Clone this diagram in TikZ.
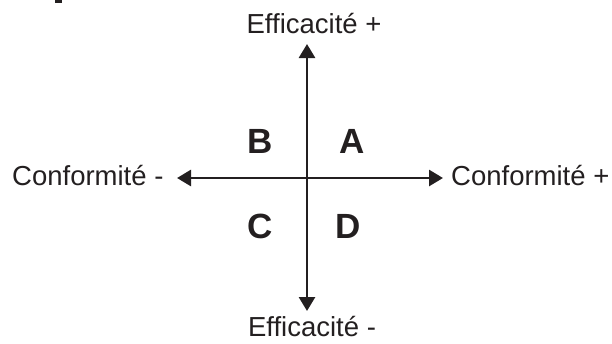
\documentclass[tikz,border=0pt]{standalone}
\usepackage{fontspec}
\setmainfont{Liberation Sans}
\usetikzlibrary{arrows.meta}
\definecolor{ink}{HTML}{231F20}
\begin{document}
\begin{tikzpicture}[x=1pt,y=-1pt,
  axis/.style={draw=ink,line width=2.8pt,-{Triangle[length=14pt,width=16pt]}},
  lbl/.style={text=ink,font=\fontsize{27.5}{30}\selectfont,inner sep=0pt},
  quad/.style={text=ink,font=\fontsize{35}{38}\selectfont\bfseries,inner sep=0pt}]
\useasboundingbox (0,0) rectangle (612,343);
\fill[ink] (55,0) rectangle (62,3);
\coordinate (O) at (307,178);
\coordinate (top) at (307,44);
\coordinate (bot) at (307,311);
\coordinate (lft) at (177,178);
\coordinate (rgt) at (443,178);
\draw[axis] (O) -- (top);
\draw[axis] (O) -- (bot);
\draw[axis] (O) -- (lft);
\draw[axis] (O) -- (rgt);
\node[lbl,anchor=base] (et) at (314,33) {Efficacité +};
\node[lbl,anchor=base] (eb) at (312,336) {Efficacité -};
\node[lbl,anchor=base west] (cl) at (12,185) {Conformité -};
\node[lbl,anchor=base west] (cr) at (451,185) {Conformité +};
\node[quad] (B) at (260,141) {B};
\node[quad] (A) at (352,141) {A};
\node[quad] (C) at (260,226) {C};
\node[quad] (D) at (348,226) {D};
\end{tikzpicture}
\end{document}
